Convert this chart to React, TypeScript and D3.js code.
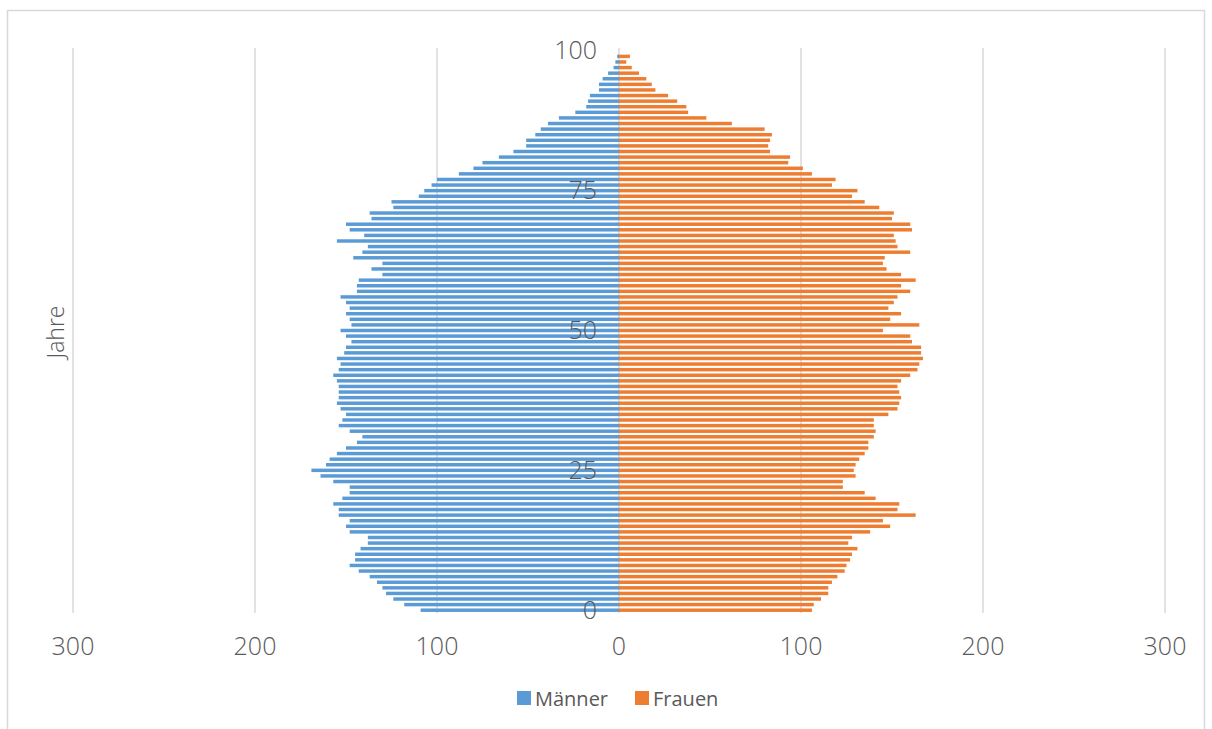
import React, { useEffect, useRef } from 'react';
import * as d3 from 'd3';

// Alter 0..100 (von unten nach oben)
const ages = d3.range(0, 101);

const maenner = [
  109, 118, 124, 128, 130, 133, 137, 143, 148, 145, 145, 142, 138, 138, 148, 150, 148, 154, 154, 157, 152, 148, 148, 157,
  164, 169, 161, 159, 155, 150, 144, 141, 148, 154, 152, 150, 153, 155, 154, 154, 154, 155, 157, 154, 153, 155, 151, 150, 147,
  150, 153, 147, 148, 150, 148, 150, 153, 144, 144, 143, 130, 136, 130, 146, 141, 138, 155, 140, 148, 150, 136, 137, 124, 125, 110,
  107, 103, 100, 88, 80, 75, 66, 58, 51, 51, 46, 43, 39, 33, 24, 18, 17, 16, 11, 11, 9, 6, 3, 2, 1,
  0,
];

const frauen = [
  106, 107, 111, 115, 115, 117, 120, 124, 125, 127, 128, 131, 126, 128, 138, 149, 145, 163, 153, 154, 141, 135, 123, 123, 130,
  129, 130, 132, 135, 137, 137, 140, 141, 140, 140, 148, 153, 154, 155, 154, 153, 155, 160, 164, 165, 167, 166, 166, 161, 160,
  145, 165, 149, 155, 148, 151, 153, 160, 155, 163, 155, 147, 145, 146, 160, 153, 152, 151, 161, 160, 150, 151, 143, 135, 128,
  131, 117, 119, 106, 101, 93, 94, 83, 82, 83, 84, 80, 62, 48, 38, 37, 32, 27, 20, 18, 15, 11, 7, 4, 6,
  0,
];

const xTicks = [-300, -200, -100, 0, 100, 200, 300];
const yTickLabels = [0, 25, 50, 75, 100];

const seriesNames = ['Männer', 'Frauen'];
const colors = ['#5B9BD5', '#ED7D31'];

const W = 1212;
const H = 729;
const FONT = "'Segoe UI Light', 'Open Sans', 'Noto Sans', sans-serif";
const TEXT = '#595959';

const App = () => {
  const svgRef = useRef<SVGSVGElement | null>(null);

  useEffect(() => {
    if (!svgRef.current) return;
    const svg = d3.select(svgRef.current);
    svg.selectAll('*').remove();

    const plot = { left: 73, right: 1165, top: 48, bottom: 613 };

    const x = d3.scaleLinear().domain([-300, 300]).range([plot.left, plot.right]);
    const y = d3
      .scaleBand<number>()
      .domain([...ages].reverse())
      .range([plot.top, plot.bottom])
      .paddingInner(0.38)
      .paddingOuter(0.19);

    // rahmen
    svg
      .append('rect')
      .attr('x', 7.5)
      .attr('y', 10.5)
      .attr('width', 1197)
      .attr('height', 740)
      .attr('fill', 'none')
      .attr('stroke', '#D9D9D9')
      .attr('stroke-width', 1.5);

    // gitternetz
    svg
      .append('g')
      .selectAll('line')
      .data(xTicks)
      .enter()
      .append('line')
      .attr('x1', (d) => x(d))
      .attr('x2', (d) => x(d))
      .attr('y1', plot.top)
      .attr('y2', plot.bottom)
      .attr('stroke', '#D9D9D9')
      .attr('stroke-width', 1.5);

    // balken
    const bars = svg.append('g');
    bars
      .selectAll('rect.m')
      .data(ages)
      .enter()
      .append('rect')
      .attr('class', 'm')
      .attr('x', (d) => x(-maenner[d]))
      .attr('y', (d) => y(d)!)
      .attr('width', (d) => x(0) - x(-maenner[d]))
      .attr('height', y.bandwidth())
      .attr('fill', colors[0]);

    bars
      .selectAll('rect.f')
      .data(ages)
      .enter()
      .append('rect')
      .attr('class', 'f')
      .attr('x', x(0))
      .attr('y', (d) => y(d)!)
      .attr('width', (d) => x(frauen[d]) - x(0))
      .attr('height', y.bandwidth())
      .attr('fill', colors[1]);

    // x-achse beschriftung
    svg
      .append('g')
      .selectAll('text')
      .data(xTicks)
      .enter()
      .append('text')
      .attr('x', (d) => x(d))
      .attr('y', 645)
      .attr('text-anchor', 'middle')
      .attr('dominant-baseline', 'central')
      .attr('font-family', FONT)
      .attr('font-weight', 300)
      .attr('font-size', 25)
      .attr('fill', TEXT)
      .text((d) => Math.abs(d));

    // y-achse beschriftung
    svg
      .append('g')
      .selectAll('text')
      .data(yTickLabels)
      .enter()
      .append('text')
      .attr('x', 597)
      .attr('y', (d) => y(d)! + y.bandwidth() / 2 - 1.5)
      .attr('text-anchor', 'end')
      .attr('dominant-baseline', 'central')
      .attr('font-family', FONT)
      .attr('font-weight', 300)
      .attr('font-size', 25)
      .attr('fill', TEXT)
      .text((d) => d);

    svg
      .append('text')
      .attr('transform', 'translate(55,332) rotate(-90)')
      .attr('text-anchor', 'middle')
      .attr('dominant-baseline', 'central')
      .attr('font-family', FONT)
      .attr('font-weight', 300)
      .attr('font-size', 23)
      .attr('fill', TEXT)
      .text('Jahre');

    // legende
    const legend = svg.append('g');
    const legendX = [517, 635];
    seriesNames.forEach((name, i) => {
      legend
        .append('rect')
        .attr('x', legendX[i])
        .attr('y', 691)
        .attr('width', 14)
        .attr('height', 14)
        .attr('fill', colors[i]);
      legend
        .append('text')
        .attr('x', legendX[i] + 18)
        .attr('y', 698)
        .attr('dominant-baseline', 'central')
        .attr('font-family', FONT)
        .attr('font-size', 20)
        .attr('fill', TEXT)
        .text(name);
    });
  }, []);

  return (
    <svg
      ref={svgRef}
      width={W}
      height={H}
      style={{ position: 'absolute', left: 0, top: 0, background: '#fff' }}
    />
  );
};

export default App;
